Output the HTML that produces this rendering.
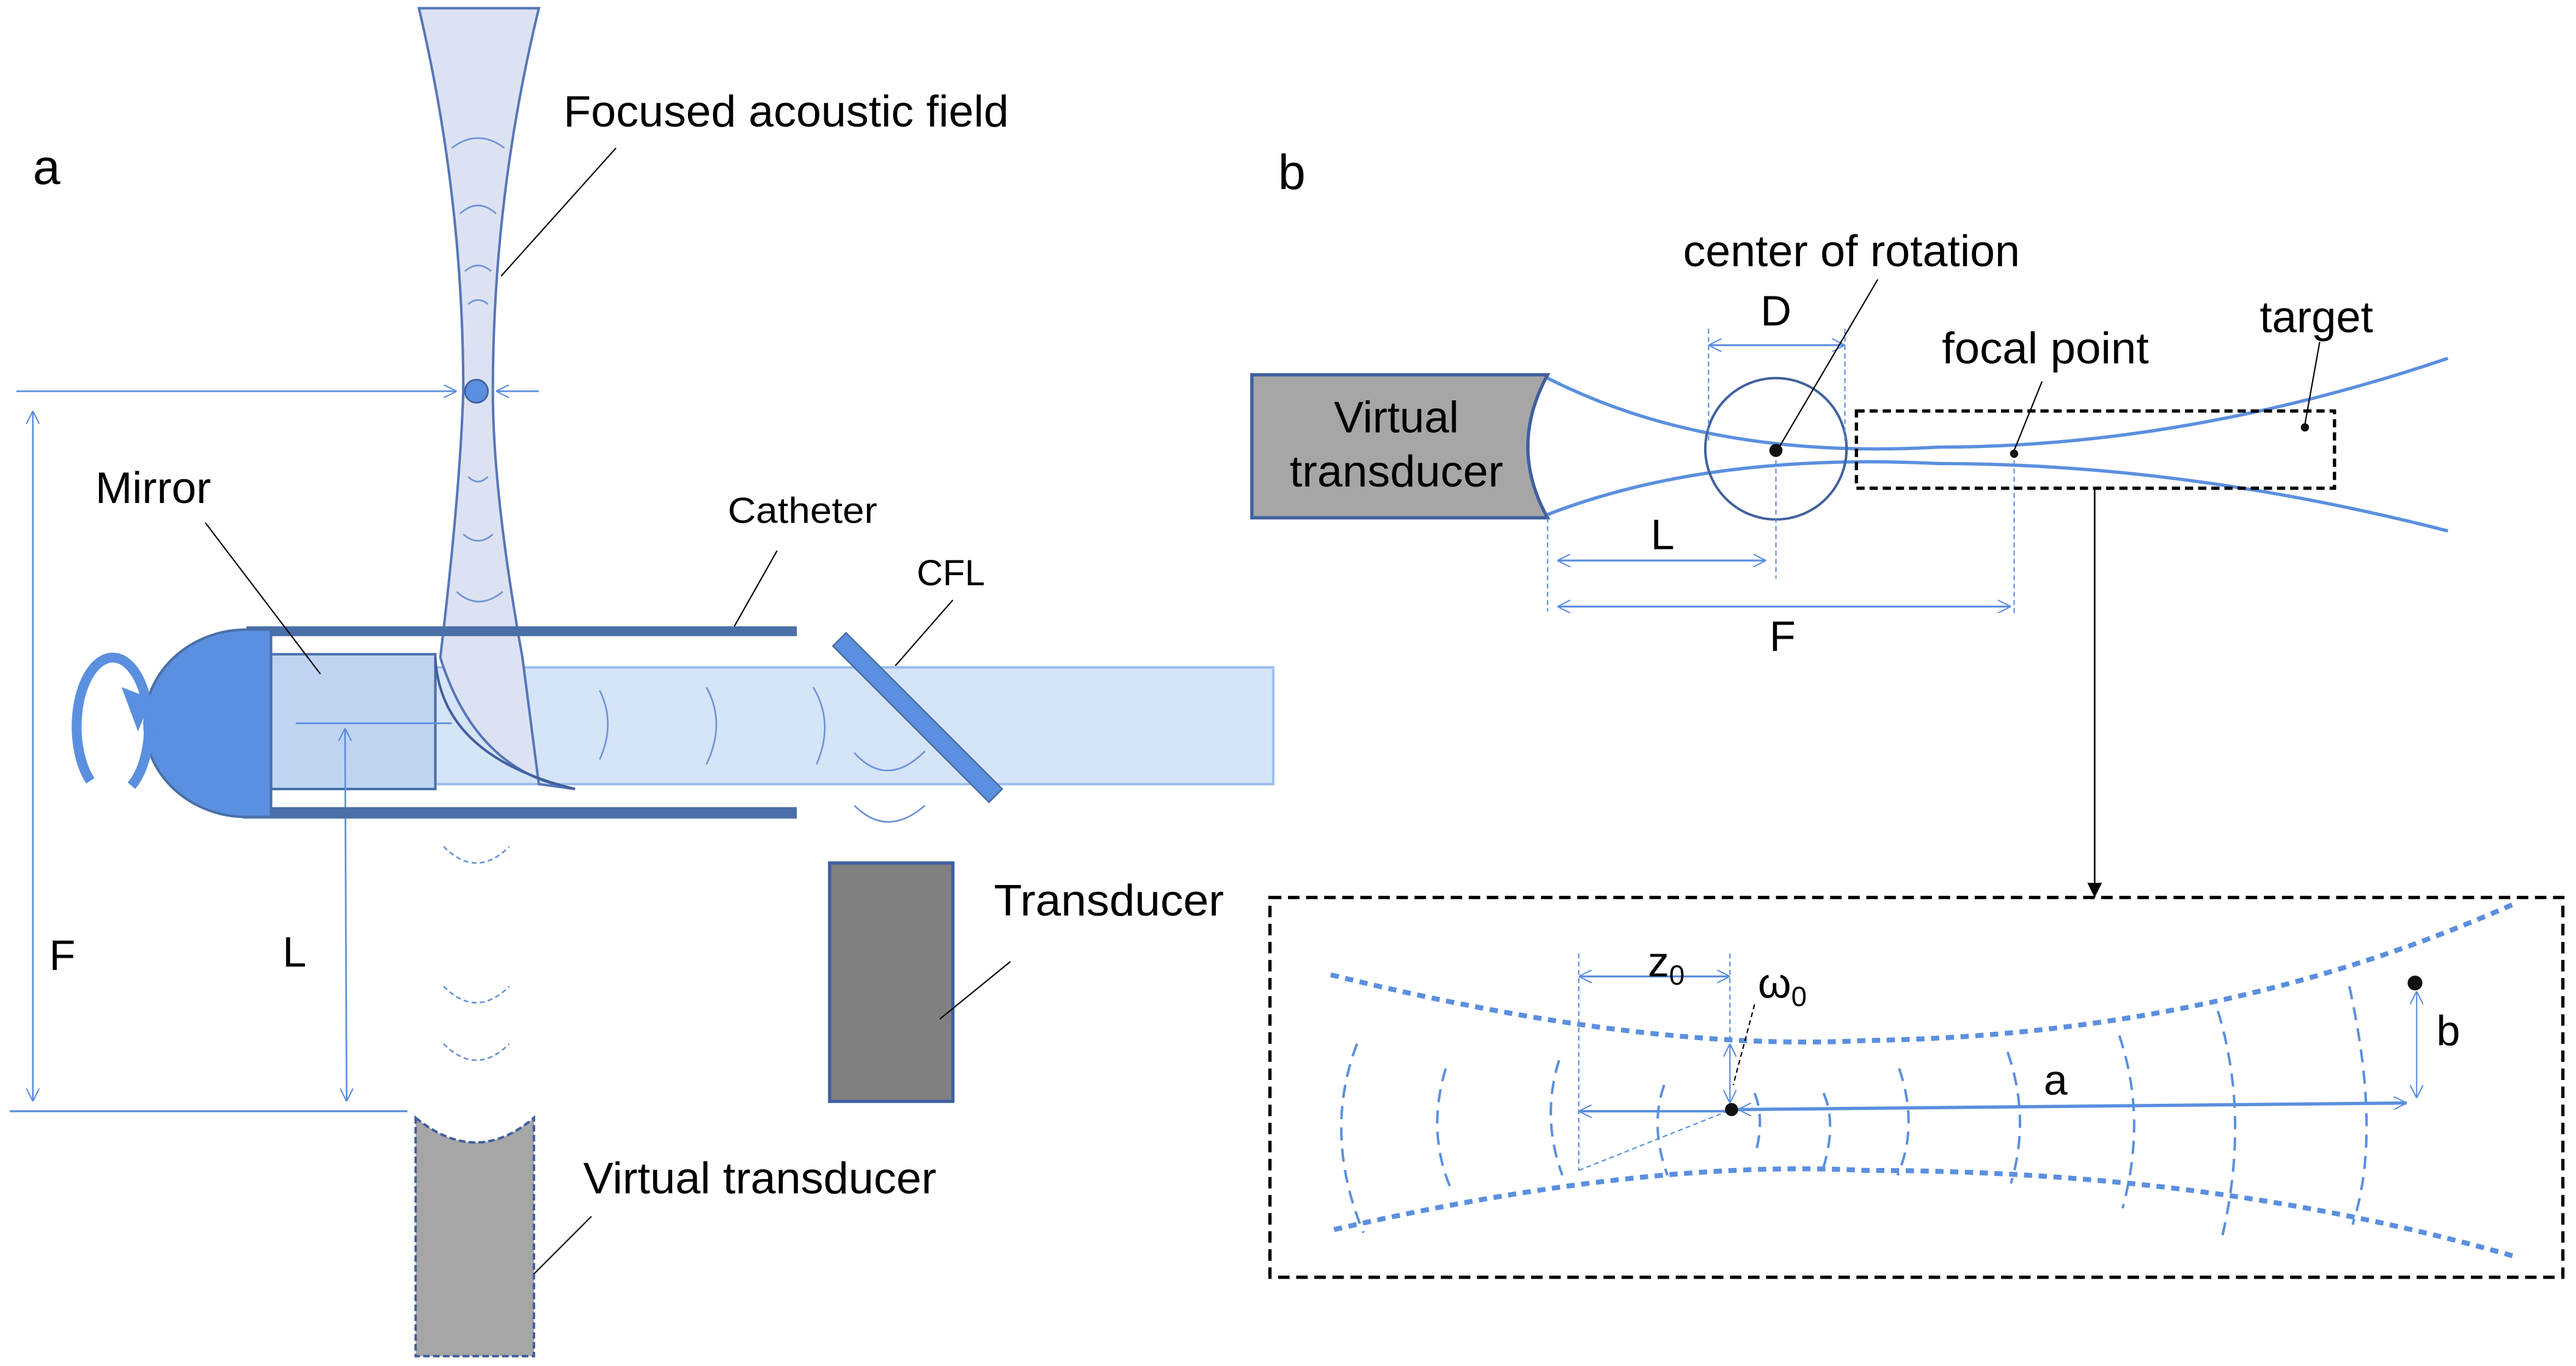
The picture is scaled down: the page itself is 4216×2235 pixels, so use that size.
<!DOCTYPE html>
<html><head><meta charset="utf-8"><style>
html,body{margin:0;padding:0;background:#fff;width:4216px;height:2235px;overflow:hidden}
svg{display:block}
text{font-family:"Liberation Sans",sans-serif;fill:#000}
</style></head><body>
<svg width="4216" height="2235" viewBox="0 0 1568 831" preserveAspectRatio="none" xmlns="http://www.w3.org/2000/svg">
<defs>
<marker id="oa" viewBox="0 0 10 10" refX="10" refY="5" markerWidth="8" markerHeight="8" orient="auto-start-reverse" markerUnits="userSpaceOnUse"><path d="M0,0 L10,5 L0,10" fill="none" stroke="#5b8fdf" stroke-width="1"/></marker>
<marker id="ba" viewBox="0 0 10 10" refX="10" refY="5" markerWidth="9" markerHeight="9" orient="auto" markerUnits="userSpaceOnUse"><path d="M0,0 L10,5 L0,10 z" fill="#000"/></marker>
</defs>

<text x="20" y="112" font-size="30">a</text>

<rect x="265" y="406" width="510" height="71" fill="#d6e4f7" stroke="#9dbdf0" stroke-width="1.5"/>
<rect x="165" y="398" width="100" height="82" fill="#c0d4f2" stroke="#4a6fa8" stroke-width="1.5"/>
<path d="M255,5 L328,5 Q300,120 300,238 Q300,300 318,400 L328,477 L350,480 Q290,470 268,400 Q280,300 282,238 Q282,120 255,5 Z" fill="#dde2f2" stroke="#5676b8" stroke-width="1.5"/>
<path d="M265,400 Q268,460 350,480" fill="none" stroke="#41609f" stroke-width="1.5"/>
<line x1="180" y1="440" x2="275" y2="440" stroke="#5b8fdf" stroke-width="1"/>
<g fill="none" stroke="#6d94d8" stroke-width="1">
<path d="M275,90 Q291,78 307,90"/><path d="M280,130 Q291,120 302,130"/><path d="M283,165 Q291,158 299,165"/><path d="M285,185 Q291,180 297,185"/>
<path d="M285,290 Q291,296 297,290"/><path d="M282,325 Q291,333 300,325"/><path d="M278,360 Q291,372 306,360"/>
<path d="M365,420 Q375,440 365,462"/><path d="M430,418 Q442,440 430,465"/><path d="M495,418 Q508,440 497,465"/>
<path d="M520,458 Q540,480 563,457"/><path d="M520,490 Q540,510 563,490"/>
</g>
<g fill="none" stroke="#6d94d8" stroke-width="1" stroke-dasharray="3,2">
<path d="M270,515 Q290,535 310,515"/><path d="M270,600 Q290,620 310,600"/><path d="M270,635 Q290,655 310,635"/>
</g>
<circle cx="290" cy="238" r="7" fill="#5b8fdf" stroke="#3f5f9f" stroke-width="1"/>
<line x1="10" y1="238" x2="278" y2="238" stroke="#5b8fdf" stroke-width="1" marker-end="url(#oa)"/>
<line x1="328" y1="238" x2="302" y2="238" stroke="#5b8fdf" stroke-width="1" marker-end="url(#oa)"/>
<line x1="20" y1="250" x2="20" y2="670" stroke="#5b8fdf" stroke-width="1" marker-start="url(#oa)" marker-end="url(#oa)"/>
<line x1="210" y1="443" x2="211" y2="670" stroke="#5b8fdf" stroke-width="1" marker-start="url(#oa)" marker-end="url(#oa)"/>
<line x1="6" y1="676" x2="248" y2="676" stroke="#5b8fdf" stroke-width="1.2"/>
<text x="30" y="590" font-size="26">F</text>
<text x="172" y="588" font-size="26">L</text>
<rect x="150" y="381" width="335" height="6" fill="#4a6fa8"/>
<rect x="148" y="491" width="337" height="7" fill="#4a6fa8"/>
<path d="M165,383 L150,383 A62,57 0 0 0 150,497 L165,497 Z" fill="#5b8fdf" stroke="#4a6fa8" stroke-width="1.5"/>
<path d="M55,475 A22,42 0 1 1 80,478" fill="none" stroke="#5b8fdf" stroke-width="6"/>
<path d="M74,418 L92,425 L84,445 Z" fill="#5b8fdf"/>
<polygon points="507,393 515,385 610,480 602,488" fill="#5b8fdf" stroke="#4a6fa8" stroke-width="1"/>
<rect x="505" y="525" width="75" height="145" fill="#808080" stroke="#3f5f9f" stroke-width="2"/>
<path d="M253,680 Q290,710 325,680 L325,825 L253,825 Z" fill="#a6a6a6" stroke="#3f5f9f" stroke-width="1.5" stroke-dasharray="4,2"/>
<g stroke="#000" stroke-width="0.8">
<line x1="375" y1="90" x2="305" y2="168"/>
<line x1="125" y1="318" x2="195" y2="410"/>
<line x1="473" y1="335" x2="447" y2="381"/>
<line x1="580" y1="365" x2="545" y2="405"/>
<line x1="615" y1="585" x2="572" y2="620"/>
<line x1="360" y1="740" x2="325" y2="775"/>
</g>
<text x="343" y="77" font-size="27" textLength="271" lengthAdjust="spacingAndGlyphs">Focused acoustic field</text>
<text x="58" y="306" font-size="27">Mirror</text>
<text x="443" y="318" font-size="22" textLength="91" lengthAdjust="spacingAndGlyphs">Catheter</text>
<text x="558" y="356" font-size="22">CFL</text>
<text x="605" y="557" font-size="27" textLength="140" lengthAdjust="spacingAndGlyphs">Transducer</text>
<text x="355" y="726" font-size="27" textLength="215" lengthAdjust="spacingAndGlyphs">Virtual transducer</text>

<text x="778" y="115" font-size="30">b</text>
<path d="M762,228 L942,228 Q918,272 942,315 L762,315 Z" fill="#a6a6a6" stroke="#3f5f9f" stroke-width="2"/>
<text x="850" y="263" font-size="27" text-anchor="middle">Virtual</text>
<text x="850" y="296" font-size="27" text-anchor="middle" textLength="130" lengthAdjust="spacingAndGlyphs">transducer</text>
<path d="M942,230 Q1040,280 1180,272 Q1330,272 1490,218" fill="none" stroke="#5b8fdf" stroke-width="2"/>
<path d="M942,313 Q1040,275 1180,282 Q1330,282 1490,323" fill="none" stroke="#5b8fdf" stroke-width="2"/>
<ellipse cx="1081" cy="273" rx="43" ry="43" fill="none" stroke="#41609f" stroke-width="1.5"/>
<g stroke="#5b8fdf" stroke-width="0.8" stroke-dasharray="3,2">
<line x1="1040" y1="200" x2="1040" y2="268"/><line x1="1123" y1="200" x2="1123" y2="268"/>
<line x1="942" y1="315" x2="942" y2="372"/><line x1="1081" y1="280" x2="1081" y2="352"/><line x1="1226" y1="280" x2="1226" y2="375"/>
</g>
<line x1="1040" y1="210" x2="1123" y2="210" stroke="#5b8fdf" stroke-width="1.2" marker-start="url(#oa)" marker-end="url(#oa)"/>
<line x1="948" y1="341" x2="1075" y2="341" stroke="#5b8fdf" stroke-width="1.2" marker-start="url(#oa)" marker-end="url(#oa)"/>
<line x1="948" y1="369" x2="1224" y2="369" stroke="#5b8fdf" stroke-width="1.2" marker-start="url(#oa)" marker-end="url(#oa)"/>
<text x="1081" y="198" font-size="26" text-anchor="middle">D</text>
<text x="1012" y="334" font-size="26" text-anchor="middle">L</text>
<text x="1085" y="396" font-size="26" text-anchor="middle">F</text>
<rect x="1130" y="250" width="291" height="47" fill="none" stroke="#000" stroke-width="2" stroke-dasharray="5,3"/>
<circle cx="1081" cy="274" r="4" fill="#111"/>
<circle cx="1226" cy="276" r="2.5" fill="#111"/>
<circle cx="1403" cy="260" r="2.5" fill="#111"/>
<g stroke="#000" stroke-width="0.8">
<line x1="1143" y1="170" x2="1083" y2="272"/>
<line x1="1243" y1="232" x2="1226" y2="274"/>
<line x1="1412" y1="208" x2="1403" y2="258"/>
</g>
<text x="1127" y="162" font-size="27" text-anchor="middle" textLength="205" lengthAdjust="spacingAndGlyphs">center of rotation</text>
<text x="1245" y="221" font-size="27" text-anchor="middle" textLength="126" lengthAdjust="spacingAndGlyphs">focal point</text>
<text x="1410" y="202" font-size="27" text-anchor="middle">target</text>
<line x1="1275" y1="297" x2="1275" y2="546" stroke="#000" stroke-width="1" marker-end="url(#ba)"/>
<rect x="773" y="546" width="787" height="231" fill="none" stroke="#000" stroke-width="2" stroke-dasharray="7,4"/>
<path d="M810,593 Q1000,640 1135,633 Q1350,630 1530,550" fill="none" stroke="#5b8fdf" stroke-width="3" stroke-dasharray="5,4"/>
<path d="M812,748 Q1000,705 1135,712 Q1350,712 1533,765" fill="none" stroke="#5b8fdf" stroke-width="3" stroke-dasharray="5,4"/>
<g fill="none" stroke="#5b8fdf" stroke-width="1.5" stroke-dasharray="8,5">
<path d="M826,635 Q805,690 830,750"/><path d="M880,650 Q868,690 884,725"/><path d="M949,645 Q938,680 951,715"/>
<path d="M1013,660 Q1004,685 1015,715"/><path d="M1068,665 Q1074,680 1069,700"/><path d="M1110,665 Q1118,683 1110,710"/>
<path d="M1156,650 Q1168,685 1155,715"/><path d="M1222,640 Q1236,680 1224,720"/><path d="M1290,630 Q1307,680 1292,735"/>
<path d="M1350,615 Q1370,680 1352,755"/><path d="M1430,600 Q1450,690 1432,745"/>
</g>
<g stroke="#5b8fdf" stroke-width="0.8" stroke-dasharray="3,2">
<line x1="961" y1="580" x2="961" y2="712"/><line x1="1053" y1="580" x2="1053" y2="676"/>
<line x1="961" y1="712" x2="1054" y2="675"/>
</g>
<line x1="961" y1="594" x2="1053" y2="594" stroke="#5b8fdf" stroke-width="1.2" marker-start="url(#oa)" marker-end="url(#oa)"/>
<line x1="1054" y1="676" x2="961" y2="676" stroke="#5b8fdf" stroke-width="1.5" marker-end="url(#oa)"/>
<line x1="1058" y1="675" x2="1465" y2="671" stroke="#5b8fdf" stroke-width="2" marker-start="url(#oa)" marker-end="url(#oa)"/>
<line x1="1053" y1="635" x2="1053" y2="671" stroke="#5b8fdf" stroke-width="0.8" marker-start="url(#oa)" marker-end="url(#oa)"/>
<line x1="1471" y1="603" x2="1471" y2="668" stroke="#5b8fdf" stroke-width="0.8" marker-start="url(#oa)" marker-end="url(#oa)"/>
<line x1="1068" y1="611" x2="1055" y2="660" stroke="#000" stroke-width="0.8" stroke-dasharray="3,2"/>
<circle cx="1054" cy="675" r="4" fill="#111"/>
<circle cx="1470" cy="598" r="4.5" fill="#111"/>
<text x="1003" y="594" font-size="26">z<tspan font-size="17" dy="5">0</tspan></text>
<text x="1070" y="607" font-size="26">ω<tspan font-size="17" dy="5">0</tspan></text>
<text x="1244" y="666" font-size="26">a</text>
<text x="1483" y="636" font-size="26">b</text>
</svg>
</body></html>
